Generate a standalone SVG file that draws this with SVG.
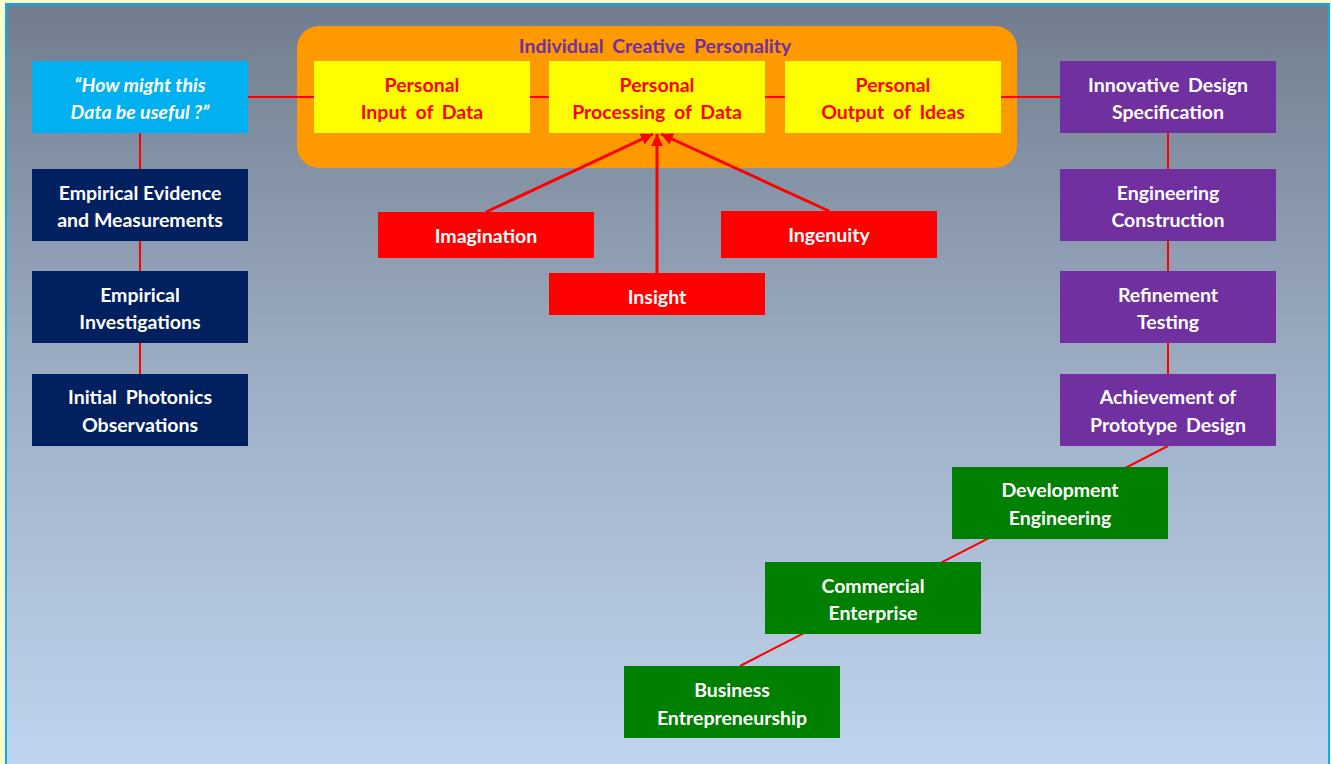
<svg xmlns="http://www.w3.org/2000/svg" width="1331" height="764" viewBox="0 0 1331 764">
<defs>
<linearGradient id="bg" x1="0" y1="0" x2="0" y2="1">
<stop offset="0" stop-color="#717d8e"/>
<stop offset="0.5" stop-color="#9fb0c6"/>
<stop offset="1" stop-color="#c1d7f1"/>
</linearGradient>
<marker id="ah" viewBox="0 0 10 10" refX="10" refY="5" markerWidth="12" markerHeight="12" markerUnits="userSpaceOnUse" orient="auto">
<path d="M0,0 L10,5 L0,10 z" fill="#ff0000"/>
</marker>
<style>
.t{font-family:Lato,"Open Sans","Liberation Sans",sans-serif;font-weight:bold;font-size:19.5px;text-anchor:middle;}
.ds{word-spacing:4px;}
.w{fill:#ffffff;}
.r{fill:#ff0000;}
.navy{fill:#002060;}
.purp{fill:#7030a0;}
.grn{fill:#008000;}
.red{fill:#ff0000;}
.yel{fill:#ffff00;}
.cyan{fill:#00b0f0;}
.ln{stroke:#ff0000;stroke-width:2;fill:none;}
.ar{stroke:#ff0000;stroke-width:3;fill:none;}
</style>
</defs>
<rect x="0" y="0" width="1331" height="764" fill="#ffffcc"/>
<rect x="6" y="4" width="1323" height="790" fill="url(#bg)" stroke="#00b0f0" stroke-width="2"/>

<g id="personality">
<rect x="297" y="26" width="720" height="142" rx="22" fill="#ff9900"/>
<text class="t ds" x="655" y="53" fill="#7030a0">Individual Creative Personality</text>
</g>

<g id="connectors">
<line class="ln" x1="248" y1="97" x2="1060" y2="97"/>
<line class="ln" x1="140" y1="133" x2="140" y2="374"/>
<line class="ln" x1="1168" y1="133" x2="1168" y2="374"/>
<line class="ln" x1="1168" y1="446" x2="740" y2="666"/>
<line class="ar" x1="486" y1="212" x2="653" y2="134" marker-end="url(#ah)"/>
<line class="ar" x1="657" y1="273" x2="657" y2="134" marker-end="url(#ah)"/>
<line class="ar" x1="829" y1="211" x2="661" y2="134" marker-end="url(#ah)"/>
</g>

<g id="useful">
<rect class="cyan" x="32" y="61" width="216" height="72"/>
<text class="t w" x="140" y="92" font-style="italic">“How might this</text>
<text class="t w" x="140" y="119" font-style="italic">Data be useful ?”</text>
</g>
<g id="evidence">
<rect class="navy" x="32" y="169" width="216" height="72"/>
<text class="t w" x="140" y="200">Empirical Evidence</text>
<text class="t w" x="140" y="227">and Measurements</text>
</g>
<g id="investigations">
<rect class="navy" x="32" y="271" width="216" height="72"/>
<text class="t w" x="140" y="302">Empirical</text>
<text class="t w" x="140" y="329">Investigations</text>
</g>
<g id="observations">
<rect class="navy" x="32" y="374" width="216" height="72"/>
<text class="t w ds" x="140" y="404">Initial Photonics</text>
<text class="t w" x="140" y="432">Observations</text>
</g>

<g id="input">
<rect class="yel" x="314" y="61" width="216" height="72"/>
<text class="t r" x="422" y="92">Personal</text>
<text class="t r ds" x="422" y="119">Input of Data</text>
</g>
<g id="processing">
<rect class="yel" x="549" y="61" width="216" height="72"/>
<text class="t r" x="657" y="92">Personal</text>
<text class="t r ds" x="657" y="119">Processing of Data</text>
</g>
<g id="output">
<rect class="yel" x="785" y="61" width="216" height="72"/>
<text class="t r" x="893" y="92">Personal</text>
<text class="t r ds" x="893" y="119">Output of Ideas</text>
</g>

<g id="imagination">
<rect class="red" x="378" y="212" width="216" height="46"/>
<text class="t w" x="486" y="243">Imagination</text>
</g>
<g id="insight">
<rect class="red" x="549" y="273" width="216" height="42"/>
<text class="t w" x="657" y="304">Insight</text>
</g>
<g id="ingenuity">
<rect class="red" x="721" y="211" width="216" height="47"/>
<text class="t w" x="829" y="242">Ingenuity</text>
</g>

<g id="specification">
<rect class="purp" x="1060" y="61" width="216" height="72"/>
<text class="t w ds" x="1168" y="92">Innovative Design</text>
<text class="t w" x="1168" y="119">Specification</text>
</g>
<g id="construction">
<rect class="purp" x="1060" y="169" width="216" height="72"/>
<text class="t w" x="1168" y="200">Engineering</text>
<text class="t w" x="1168" y="227">Construction</text>
</g>
<g id="testing">
<rect class="purp" x="1060" y="271" width="216" height="72"/>
<text class="t w" x="1168" y="302">Refinement</text>
<text class="t w" x="1168" y="329">Testing</text>
</g>
<g id="prototype">
<rect class="purp" x="1060" y="374" width="216" height="72"/>
<text class="t w" x="1168" y="404">Achievement of</text>
<text class="t w ds" x="1168" y="432">Prototype Design</text>
</g>

<g id="development">
<rect class="grn" x="952" y="467" width="216" height="72"/>
<text class="t w" x="1060" y="497">Development</text>
<text class="t w" x="1060" y="525">Engineering</text>
</g>
<g id="commercial">
<rect class="grn" x="765" y="562" width="216" height="72"/>
<text class="t w" x="873" y="593">Commercial</text>
<text class="t w" x="873" y="620">Enterprise</text>
</g>
<g id="business">
<rect class="grn" x="624" y="666" width="216" height="72"/>
<text class="t w" x="732" y="697">Business</text>
<text class="t w" x="732" y="725">Entrepreneurship</text>
</g>
</svg>
